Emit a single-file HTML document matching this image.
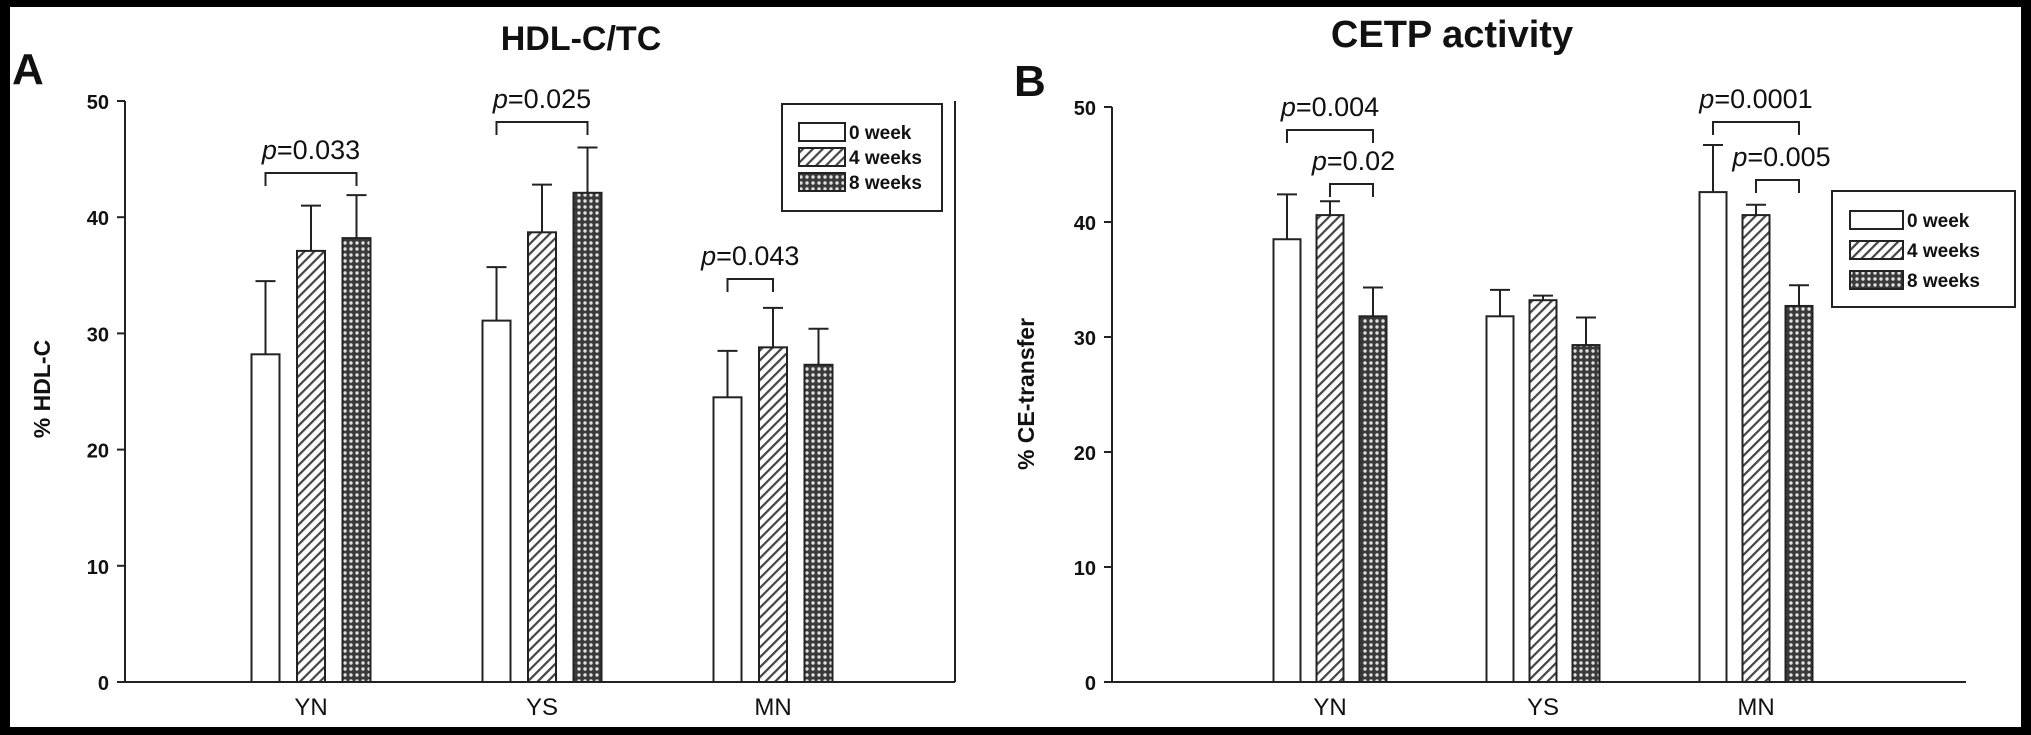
<!DOCTYPE html>
<html><head><meta charset="utf-8"><style>
html,body{margin:0;padding:0;background:#000;}
#wrap{position:relative;width:2031px;height:735px;background:#000;}
svg{position:absolute;left:0;top:0;}
text{font-family:"Liberation Sans",sans-serif;fill:#111;}
</style></head><body>
<div id="wrap">
<svg id="fig" width="2031" height="735" viewBox="0 0 2031 735">
<defs>
<pattern id="hatch" patternUnits="userSpaceOnUse" width="7" height="7" patternTransform="rotate(45)">
<rect width="7" height="7" fill="#fff"/><rect width="2.2" height="7" fill="#444"/></pattern>
<pattern id="cross" patternUnits="userSpaceOnUse" width="6" height="6">
<rect width="6" height="6" fill="#3a3a3a"/><circle cx="3" cy="3" r="1.7" fill="#e0e0e0"/></pattern>
<clipPath id="inner"><rect x="10" y="7" width="2011" height="720"/></clipPath>
</defs>
<rect x="10" y="7" width="2011" height="720" fill="#fff"/>
<g clip-path="url(#inner)">
<g id="panelA"></g>
<g id="panelB"></g>
</g>
</svg>
</div>
<script>
const categories = ["YN","YS","MN"];
const seriesNames = ["0 week","4 weeks","8 weeks"];
const yTicks = [0,10,20,30,40,50];
const hdlMeans0 = [28.2,31.1,24.5];
const hdlMeans4 = [37.1,38.7,28.8];
const hdlMeans8 = [38.2,42.1,27.3];
const hdlErr0 = [6.3,4.6,4.0];
const hdlErr4 = [3.9,4.1,3.4];
const hdlErr8 = [3.7,3.9,3.1];
const cetpMeans0 = [38.5,31.8,42.6];
const cetpMeans4 = [40.6,33.2,40.6];
const cetpMeans8 = [31.8,29.3,32.7];
const cetpErr0 = [3.9,2.3,4.1];
const cetpErr4 = [1.2,0.4,0.9];
const cetpErr8 = [2.5,2.4,1.8];
const hdlPvals = ["0.033","0.025","0.043"];
const cetpPvals = ["0.004","0.02","0.0001","0.005"];

const NS="http://www.w3.org/2000/svg";
const fills=["#fff","url(#hatch)","url(#cross)"];
function mk(parent,tag,attrs,txt){const e=document.createElementNS(NS,tag);for(const k in attrs)e.setAttribute(k,attrs[k]);if(txt!==undefined)e.textContent=txt;parent.appendChild(e);return e;}

function drawPanel(g,cfg){
  const y=v=>cfg.y0-(v/50)*(cfg.y0-cfg.y50);
  const xc=(ci,si)=>cfg.gx0+ci*cfg.gstep+(si-1)*cfg.pitch;
  const t=mk(g,"text",{x:cfg.titleX,y:cfg.titleY,"text-anchor":"middle","font-size":cfg.titleSize,"font-weight":"bold"},cfg.title);
  
  
  const L=mk(g,"text",{x:cfg.letterX,y:cfg.letterY,"font-size":44,"font-weight":"bold"},cfg.letter);
  
  
  const ax=mk(g,"line",{x1:cfg.ax,y1:cfg.y50,x2:cfg.ax,y2:cfg.y0,stroke:"#222","stroke-width":2});
  
  
  const xa=mk(g,"line",{x1:cfg.ax-8,y1:cfg.y0,x2:cfg.xEnd,y2:cfg.y0,stroke:"#222","stroke-width":2});
  
  
  if(cfg.rightLine){const r=mk(g,"line",{x1:cfg.xEnd,y1:cfg.y50,x2:cfg.xEnd,y2:cfg.y0,stroke:"#222","stroke-width":2});
    
    }
  yTicks.forEach(v=>{
    mk(g,"line",{x1:cfg.ax-8,y1:y(v),x2:cfg.ax,y2:y(v),stroke:"#222","stroke-width":2});
    const tl=mk(g,"text",{x:cfg.ax-16,y:y(v)+8,"text-anchor":"end","font-size":20,"font-weight":"bold"},v);
    
    
  });
  const yt=mk(g,"text",{x:0,y:0,"text-anchor":"middle","font-size":23,"font-weight":"bold",transform:`translate(${cfg.ytX},${cfg.ytY}) rotate(-90)`},cfg.yTitle);
  
  
  categories.forEach((c,ci)=>{
    const cl=mk(g,"text",{x:xc(ci,1),y:cfg.y0+33,"text-anchor":"middle","font-size":24},c);
    
    
    for(let si=0;si<3;si++){
      const m=cfg.means[si][ci],e=cfg.errs[si][ci],cx=xc(ci,si);
      const el=mk(g,"line",{x1:cx,y1:y(m+e),x2:cx,y2:y(m),stroke:"#222","stroke-width":2});
      
      
      mk(g,"line",{x1:cx-10,y1:y(m+e),x2:cx+10,y2:y(m+e),stroke:"#222","stroke-width":2});
      const b=mk(g,"rect",{x:cx-cfg.bw/2,y:y(m),width:cfg.bw,height:y(0)-y(m),fill:fills[si],stroke:"#222","stroke-width":2});
      
      
    }
  });
  cfg.brackets.forEach(br=>{
    const x1=xc(br.c,br.a),x2=xc(br.c,br.b);
    const p=mk(g,"path",{d:`M${x1} ${br.y+13}V${br.y}H${x2}V${br.y+13}`,fill:"none",stroke:"#222","stroke-width":2});
    
    
    const tx=mk(g,"text",{x:(x1+x2)/2+br.dx,y:br.y-14,"text-anchor":"middle","font-size":27});
    
    
    mk(tx,"tspan",{"font-style":"italic"},"p");
    mk(tx,"tspan",{},"="+br.p);
  });
  const lg=cfg.legend;
  const box=mk(g,"rect",{x:lg.x,y:lg.y,width:lg.w,height:lg.h,fill:"#fff",stroke:"#222","stroke-width":2});
  
  
  seriesNames.forEach((n,si)=>{
    const ry=lg.y+lg.r0+si*lg.rs;
    mk(g,"rect",{x:lg.x+lg.sx,y:ry-lg.sh/2,width:lg.sw,height:lg.sh,fill:fills[si],stroke:"#222","stroke-width":2});
    const le=mk(g,"text",{x:lg.x+lg.sx+lg.sw+4,y:ry+7,"font-size":lg.fs,"font-weight":"bold"},n);
    
    
  });
}

drawPanel(document.getElementById("panelA"),{
  title:"HDL-C/TC",titleX:581,titleY:50,titleSize:34,letter:"A",letterX:12,letterY:84,
  ax:125,y0:682,y50:101,xEnd:955,rightLine:true,gx0:311,gstep:231,pitch:45.5,bw:28,
  ytX:50,ytY:389,yTitle:"% HDL-C",
  means:[hdlMeans0,hdlMeans4,hdlMeans8],errs:[hdlErr0,hdlErr4,hdlErr8],
  brackets:[{c:0,a:0,b:2,y:173,p:hdlPvals[0],dx:0},{c:1,a:0,b:2,y:122,p:hdlPvals[1],dx:0},{c:2,a:0,b:1,y:279,p:hdlPvals[2],dx:0}],
  legend:{x:782,y:104,w:160,h:107,sx:17,sw:46,sh:18,r0:28,rs:25,fs:19}
});
drawPanel(document.getElementById("panelB"),{
  title:"CETP activity",titleX:1452,titleY:47,titleSize:38,letter:"B",letterX:1014,letterY:96,
  ax:1112,y0:682,y50:107,xEnd:1966,rightLine:false,gx0:1330,gstep:213,pitch:43,bw:27,
  ytX:1034,ytY:394,yTitle:"% CE-transfer",
  means:[cetpMeans0,cetpMeans4,cetpMeans8],errs:[cetpErr0,cetpErr4,cetpErr8],
  brackets:[{c:0,a:0,b:2,y:130,p:cetpPvals[0],dx:0},{c:0,a:1,b:2,y:184,p:cetpPvals[1],dx:2},{c:2,a:0,b:2,y:122,p:cetpPvals[2],dx:0},{c:2,a:1,b:2,y:180,p:cetpPvals[3],dx:4}],
  legend:{x:1832,y:191,w:183,h:116,sx:18,sw:53,sh:18,r0:29,rs:30,fs:19}
});
</script>
</body></html>
